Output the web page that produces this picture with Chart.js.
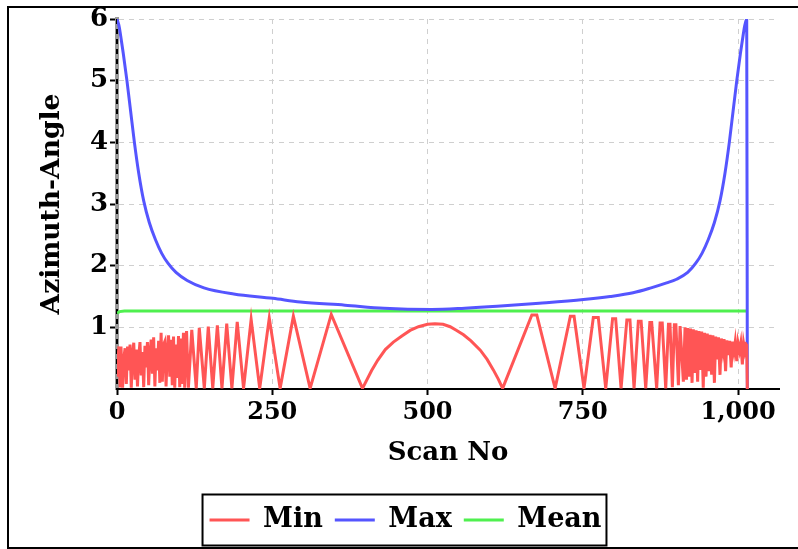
<!DOCTYPE html>
<html>
<head>
<meta charset="utf-8">
<title>Azimuth-Angle</title>
<script src="https://cdn.jsdelivr.net/npm/chart.js@4.4.0/dist/chart.umd.min.js"></script>
<style>
    html, body { margin: 0; padding: 0; background: #fff; overflow: hidden; }
    canvas { display: block; }
</style>
</head>
<body>
<canvas id="myChart" width="798" height="549"></canvas>
<script>
// values (scan no / angle)
var minScan = [
    0, 3, 5, 6.4, 9, 11, 13, 15, 17, 19,
    21, 23, 25, 27, 29, 31, 33, 35, 37, 39,
    41, 43, 45, 47, 49, 51, 53, 55, 57, 59,
    61, 63, 65, 67, 69, 71, 73, 75, 77, 79,
    81, 83, 85, 87, 89, 91, 93, 95, 97, 99,
    101, 103, 105, 107, 109, 112, 115,
    120.4, 127.6, 132.5, 140.6, 147, 154.2, 161.6, 169, 176.7, 185,
    193.6, 203.8, 216, 229.8, 245.2, 262.7, 284, 311, 345, 395.3,
    410, 420, 432, 445, 458.7, 472, 485.5, 500, 512, 525,
    536.5, 547, 558, 570, 585, 596, 606, 614, 621,
    668, 676, 705.5, 730, 736, 752, 767, 775, 787, 798,
    803, 811.7, 821, 826, 832.6, 839.5, 844, 851.4, 858, 861,
    869, 874.5, 878, 883.6, 888, 890.5, 894.3, 897.5, 900, 904,
    906.7, 912, 914.7, 917, 919, 921.5, 923.5, 926, 928, 930.5,
    932.5, 935, 937, 939.5, 941.5, 944, 946, 948.5, 950.5, 953,
    955, 957.5, 959.5, 962, 964, 966.5, 968.5, 971, 973, 975.5,
    977.5, 980, 982, 984.5, 986.5, 989, 991, 993.5, 995.5, 998,
    1000, 1002.5, 1004.5, 1007, 1009, 1011, 1013, 1014, 1015
];
var minVal = [
    0.2, 0.69, 0.05, 0.69, 0.02, 0.5, 0.66, 0.08, 0.69, 0.3,
    0.72, 0.02, 0.55, 0.75, 0.15, 0.64, 0.04, 0.52, 0.76, 0.22,
    0.6, 0.03, 0.7, 0.35, 0.76, 0.06, 0.58, 0.8, 0.25, 0.84,
    0.04, 0.66, 0.3, 0.78, 0.1, 0.91, 0.12, 0.72, 0.77, 0.04,
    0.62, 0.87, 0.2, 0.8, 0.06, 0.85, 0.02, 0.72, 0.18, 0.86,
    0.03, 0.82, 0.08, 0.91, 0.02, 0.94, 0.02,
    0.96, 0.01, 0.99, 0.01, 1.01, 0.01, 1.03, 0.01, 1.06, 0.01,
    1.09, 0.01, 1.13, 0.01, 1.15, 0.01, 1.18, 0.01, 1.21, 0.01,
    0.3, 0.47, 0.64, 0.76, 0.86, 0.95, 1.01, 1.05, 1.06, 1.05,
    1.01, 0.95, 0.88, 0.78, 0.63, 0.48, 0.31, 0.16, 0.01,
    1.2, 1.2, 0.01, 1.18, 1.18, 0.01, 1.16, 1.16, 0.01, 1.14,
    1.14, 0.01, 1.12, 1.12, 0.01, 1.1, 1.1, 0.01, 1.08, 1.08,
    0.01, 1.07, 1.07, 0.01, 1.05, 1.05, 0.03, 1.04, 1.04, 0.06,
    1.02, 0.12, 1.0, 0.15, 0.99, 0.2, 0.98, 0.1, 0.97, 0.26,
    0.95, 0.12, 0.94, 0.31, 0.93, 0.02, 0.91, 0.2, 0.9, 0.29,
    0.88, 0.23, 0.87, 0.1, 0.85, 0.48, 0.84, 0.23, 0.82, 0.62,
    0.81, 0.29, 0.79, 0.55, 0.78, 0.35, 0.77, 0.6, 0.76, 0.45,
    0.75, 0.62, 0.745, 0.4, 0.74, 0.62, 0.735, 0.73, 0
];

var maxScan = [0, 3, 6, 10, 16, 22, 28, 35, 43, 52, 62, 72, 82, 95, 113, 140, 188, 251, 295, 367, 430, 507,
    560, 612, 680, 751, 794, 831, 860, 885, 901, 919, 932, 942, 952, 962, 971, 979, 986, 992, 998, 1004, 1008, 1011, 1014, 1015];
var maxVal = [6, 5.9, 5.72, 5.45, 5.0, 4.5, 4.0, 3.5, 3.05, 2.7, 2.42, 2.2, 2.04, 1.89, 1.76, 1.64, 1.54, 1.47, 1.41, 1.36, 1.31, 1.29,
    1.31, 1.34, 1.39, 1.45, 1.5, 1.56, 1.64, 1.72, 1.78, 1.89, 2.04, 2.2, 2.42, 2.7, 3.05, 3.5, 4.0, 4.5, 5.0, 5.45, 5.72, 5.9, 6, 0];

var meanScan = [0, 4, 12, 500, 1013];
var meanVal = [1.23, 1.255, 1.265, 1.265, 1.265];

var xTicks = [0, 250, 500, 750, 1000];
var yTicks = [1, 2, 3, 4, 5, 6];

function points(xs, ys) {
    return xs.map(function (x, i) { return { x: x, y: ys[i] }; });
}

// outer frame (open on the right) and the dashed line on the y axis
var decor = {
    id: 'decor',
    beforeDraw: function (chart) {
        var c = chart.ctx;
        c.save();
        c.strokeStyle = '#000';
        c.lineWidth = 2;
        c.beginPath();
        c.moveTo(800, 7);
        c.lineTo(8, 7);
        c.lineTo(8, 548);
        c.lineTo(800, 548);
        c.stroke();
        c.restore();
    },
    beforeDatasetsDraw: function (chart) {
        var a = chart.chartArea;
        var c = chart.ctx;
        c.save();
        c.strokeStyle = '#000';
        c.lineWidth = 2;
        c.setLineDash([5, 5]);
        c.beginPath();
        c.moveTo(a.left, a.top);
        c.lineTo(a.left, a.bottom);
        c.stroke();
        c.restore();
    },
    // black box round the legend items
    afterDraw: function (chart) {
        var lg = chart.legend;
        var hb = lg.legendHitBoxes;
        if (!hb || !hb.length) return;
        var last = hb[hb.length - 1];
        var mid = lg.top + lg.options.labels.padding + hb[0].height / 2;
        var c = chart.ctx;
        c.save();
        c.strokeStyle = '#000';
        c.lineWidth = 2;
        c.strokeRect(hb[0].left - 7, mid - 25.5, last.left + last.width - hb[0].left + 12, 51);
        c.restore();
    }
};

Chart.defaults.font.family = "'DejaVu Serif', serif";
Chart.defaults.font.weight = 'bold';
Chart.defaults.color = '#000';

var ctx = document.getElementById('myChart').getContext('2d');
var myChart = new Chart(ctx, {
    type: 'line',
    data: {
        datasets: [
            {
                label: 'Min',
                data: points(minScan, minVal),
                borderColor: '#ff5555',
                backgroundColor: '#ff5555',
                borderWidth: 3,
                pointRadius: 0,
                pointStyle: 'line',
                tension: 0
            },
            {
                label: 'Max',
                data: points(maxScan, maxVal),
                borderColor: '#5555ff',
                backgroundColor: '#5555ff',
                borderWidth: 3,
                pointRadius: 0,
                pointStyle: 'line',
                cubicInterpolationMode: 'monotone'
            },
            {
                label: 'Mean',
                data: points(meanScan, meanVal),
                borderColor: '#4ff04f',
                backgroundColor: '#4ff04f',
                borderWidth: 3,
                pointRadius: 0,
                pointStyle: 'line',
                tension: 0
            }
        ]
    },
    options: {
        responsive: false,
        animation: false,
        layout: { padding: { left: 32, right: 19, top: 19, bottom: 5.5 } },
        plugins: {
            tooltip: { enabled: false },
            legend: {
                position: 'bottom',
                labels: {
                    usePointStyle: true,
                    pointStyleWidth: 40,
                    boxHeight: 20,
                    padding: 12,
                    font: { size: 27, weight: 'bold' }
                }
            }
        },
        scales: {
            x: {
                type: 'linear',
                min: 0,
                max: 1066,
                afterBuildTicks: function (s) { s.ticks = xTicks.map(function (v) { return { value: v }; }); },
                afterFit: function (s) { s.height = 105.5; },
                ticks: { font: { size: 24, weight: 'bold' }, maxRotation: 0, autoSkip: false, padding: 3 },
                grid: {
                    color: '#cfcfcf',
                    tickColor: '#000',
                    tickWidth: 2,
                    tickLength: 6
                },
                border: { color: '#000', width: 2, dash: [5, 5] },
                title: { display: true, text: 'Scan No', font: { size: 26, weight: 'bold' }, padding: { top: 0, bottom: 26 } }
            },
            y: {
                min: 0,
                max: 6,
                afterBuildTicks: function (s) { s.ticks = yTicks.map(function (v) { return { value: v }; }); },
                afterFit: function (s) { s.width = 85; },
                ticks: { font: { size: 26, weight: 'bold' }, padding: 2 },
                grid: {
                    color: '#cfcfcf',
                    tickColor: '#000',
                    tickWidth: 2,
                    tickLength: 7
                },
                border: { color: '#999', width: 4, dash: [5, 5], z: -1 },
                title: { display: true, text: 'Azimuth-Angle', font: { size: 26.5, weight: 'bold' }, padding: { top: 4, bottom: 4 } }
            }
        }
    },
    plugins: [decor]
});
</script>
</body>
</html>
